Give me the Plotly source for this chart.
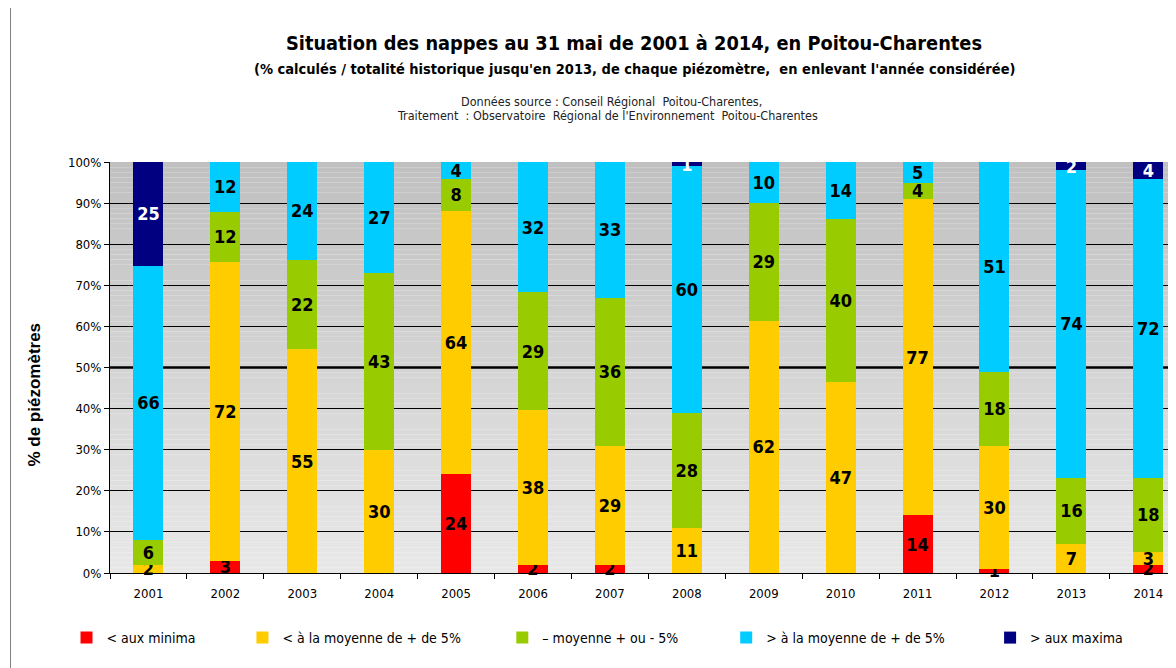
import plotly.graph_objects as go

years = [str(y) for y in range(2001, 2015)]
minima = [0, 3, 0, 0, 24, 2, 2, 0, 0, 0, 14, 1, 0, 2]
below = [2, 72, 55, 30, 64, 38, 29, 11, 62, 47, 77, 30, 7, 3]
moyenne = [6, 12, 22, 43, 8, 29, 36, 28, 29, 40, 4, 18, 16, 18]
above = [66, 12, 24, 27, 4, 32, 33, 60, 10, 14, 5, 51, 74, 72]
maxima = [25, 0, 0, 0, 0, 0, 0, 1, 0, 0, 0, 0, 2, 4]

series_names = ["< aux minima", "< à la moyenne de + de 5%", "– moyenne + ou - 5%",
                "> à la moyenne de + de 5%", "> aux maxima"]
series_values = [minima, below, moyenne, above, maxima]
series_colors = ["#FF0000", "#FFCC00", "#99CC00", "#00CCFF", "#000080"]
label_colors = ["black", "black", "black", "black", "white"]
y_ticks = [0, 10, 20, 30, 40, 50, 60, 70, 80, 90, 100]

# page body has an 8px margin: work in screen pixels and shift
OFF = 8
SW, SH = 1176, 668
W, H = SW - OFF, SH - OFF
L, R, T, B = 109.5, 1176, 162, 573  # plot area in screen px

def px(xs):
    return (xs - L) / (R - L)

def py(ys):
    return (B - ys) / (B - T)

NARROW = "Liberation Sans Narrow, Arial Narrow, DejaVu Sans Condensed, sans-serif"

fig = go.Figure()
legend_sym_x = [86, 262, 522, 746, 1010]
for i, (name, vals, col, lc) in enumerate(zip(series_names, series_values, series_colors, label_colors)):
    lg = "legend" if i == 0 else f"legend{i+1}"
    fig.add_trace(go.Bar(
        x=years, y=vals, name=name, marker=dict(color=col, line=dict(width=0)),
        text=[str(v) if v else "" for v in vals],
        textposition="inside", insidetextanchor="middle", textangle=0,
        constraintext="none", cliponaxis=False,
        textfont=dict(family=NARROW, size=18, color=lc, weight="bold"),
        hoverinfo="skip", legend=lg,
    ))

legends = {}
for i, xc in enumerate(legend_sym_x):
    key = "legend" if i == 0 else f"legend{i+1}"
    legends[key] = dict(
        x=px(xc - 20), y=py(638), xanchor="left", yanchor="middle",
        orientation="h", bgcolor="rgba(0,0,0,0)", borderwidth=0,
        font=dict(family=NARROW, size=14, color="#000000"),
        itemclick=False, itemdoubleclick=False,
    )

# gradient background
shapes = []
N = 80
top_c, bot_c = (192, 192, 192), (232, 232, 232)
for k in range(N):
    t = (k + 0.5) / N
    c = tuple(int(round(bot_c[j] + (top_c[j] - bot_c[j]) * t)) for j in range(3))
    shapes.append(dict(type="rect", xref="paper", yref="paper", x0=0, x1=1,
                       y0=k / N, y1=(k + 1) / N, fillcolor=f"rgb{c}",
                       line=dict(width=0), layer="below"))
# thick 50% line
shapes.append(dict(type="line", xref="paper", yref="y", x0=0, x1=1, y0=50, y1=50,
                   line=dict(color="black", width=2.5), layer="between"))
# outer frame line at left
shapes.append(dict(type="line", xref="paper", yref="paper", x0=px(10), x1=px(10),
                   y0=py(SH), y1=py(OFF), line=dict(color="#808080", width=1)))

def ann(text, xs, ys, size, family=NARROW, color="black", angle=0):
    return dict(text=text, x=px(xs), y=py(ys), xref="paper", yref="paper",
                xanchor="center", yanchor="middle", showarrow=False, textangle=angle,
                font=dict(family=family, size=size, color=color))

annotations = [
    ann("<b>Situation des nappes au 31 mai de 2001 à 2014, en Poitou-Charentes</b>", 634, 44, 19.8),
    ann("<b>(% calculés / totalité historique jusqu'en 2013, de chaque piézomètre,  en enlevant l'année considérée)</b>",
        634, 69, 14.5),
    ann("Données source : Conseil Régional  Poitou-Charentes,", 611, 101, 12.5, color="#222222"),
    ann("Traitement  : Observatoire  Régional de l'Environnement  Poitou-Charentes", 607, 116, 12.5,
        color="#222222"),
    ann("<b>% de piézomètres</b>", 33, 395, 17, family="Liberation Sans, Arial, sans-serif", angle=-90),
]

fig.update_layout(
    width=W, height=H,
    margin=dict(l=L - OFF, r=SW - R, t=T - OFF, b=SH - B, pad=0),
    paper_bgcolor="white", plot_bgcolor="rgba(0,0,0,0)",
    barmode="stack", barnorm="percent", bargap=0.61,
    uniformtext=dict(minsize=18, mode="show"),
    shapes=shapes, annotations=annotations,
    showlegend=True, **legends,
)
fig.update_xaxes(
    type="category", range=[-0.5, 13.36], showline=True, linecolor="black", linewidth=1,
    ticks="outside", tickson="boundaries", ticklen=5, tickcolor="black",
    ticklabelstandoff=8,
    tickfont=dict(family=NARROW, size=13, color="black"), showgrid=False,
    fixedrange=True,
)
fig.update_yaxes(
    range=[0, 100.02], tickvals=y_ticks, ticktext=[f"{v}%" for v in y_ticks],
    showline=True, linecolor="black", linewidth=1,
    ticks="outside", ticklen=5, tickcolor="black",
    showgrid=True, gridcolor="black", gridwidth=1, zeroline=False,
    tickfont=dict(family=NARROW, size=13, color="black"), fixedrange=True,
)

fig.write_html("out.html")
